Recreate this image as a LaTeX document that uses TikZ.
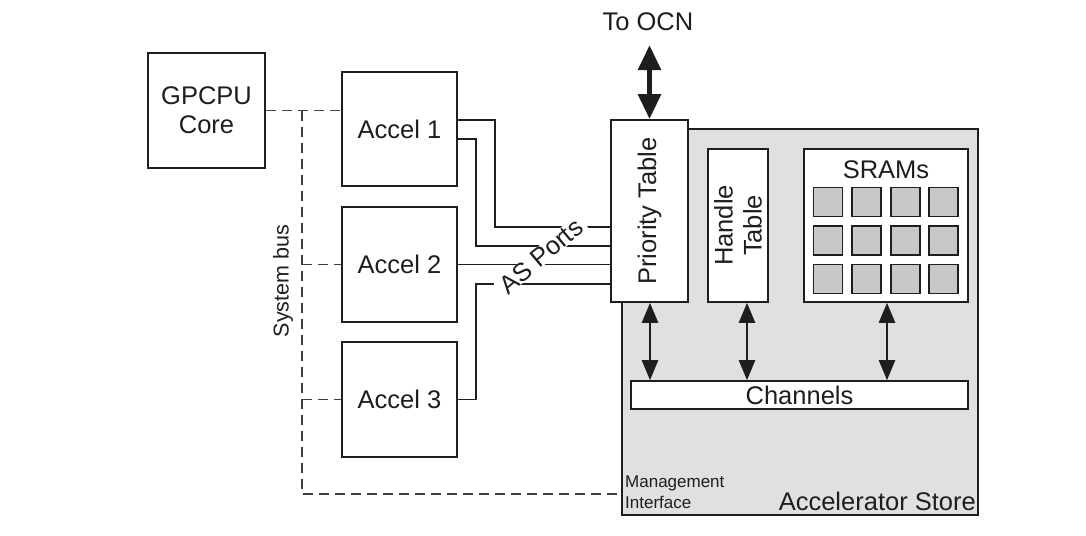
\documentclass[tikz,border=0pt]{standalone}
\usepackage{fontspec}
\setmainfont{Liberation Sans}
\usetikzlibrary{arrows.meta,calc}
\definecolor{ink}{HTML}{1E1E1E}
\definecolor{storegray}{HTML}{E0E0E2}
\definecolor{cellgray}{HTML}{C8C8CA}
\begin{document}
\begin{tikzpicture}[x=1pt,y=-1pt,
  box/.style={draw=ink,line width=1.6pt,fill=white,inner sep=0pt,align=center,text=ink,
    font=\fontsize{25.5}{30}\selectfont},
  cell/.style={draw=ink,line width=1.4pt,fill=cellgray,minimum width=29pt,minimum height=29pt,inner sep=0pt},
  bus/.style={draw=ink!85,line width=1.4pt,dash pattern=on 10pt off 6pt},
  port/.style={draw=ink,line width=1.5pt},
  bigarrow/.style={draw=ink,line width=5.5pt,{Triangle[width=22pt,length=25pt]}-{Triangle[width=22pt,length=25pt]}},
  smallarrow/.style={draw=ink,line width=2.4pt,{Triangle[width=16pt,length=20pt]}-{Triangle[width=16pt,length=20pt]}},
  lbl/.style={text=ink,inner sep=0pt}
]
\useasboundingbox (0,0) rectangle (1086,535);

% Accelerator store background
\node[draw=ink,line width=1.6pt,fill=storegray,minimum width=356pt,minimum height=386pt,inner sep=0pt] (st) at (800,322) {};

% Left boxes
\node[box,minimum width=117pt,minimum height=115pt] (gp) at (206.5,110.5) {GPCPU\\[-1pt]Core};
\node[box,minimum width=115pt,minimum height=114pt] (a1) at (399.5,129) {Accel 1};
\node[box,minimum width=115pt,minimum height=115pt] (a2) at (399.5,264.5) {Accel 2};
\node[box,minimum width=115pt,minimum height=115pt] (a3) at (399.5,399.5) {Accel 3};

% Store internals
\node[box,minimum width=77pt,minimum height=182pt] (pt) at (649.5,211) {};
\node[lbl,rotate=90,font=\fontsize{25.5}{30}\selectfont] (ptl) at (pt.center) {Priority Table};
\node[box,minimum width=60pt,minimum height=153pt] (ht) at (738,225.5) {};
\node[lbl,rotate=90,align=center,font=\fontsize{25.5}{29}\selectfont] (htl) at (ht.center) {Handle\\Table};
\node[box,minimum width=164pt,minimum height=153pt] (sr) at (886,225.5) {};
\node[lbl,font=\fontsize{25.5}{30}\selectfont] (srl) at (886,170) {SRAMs};
\foreach \i/\x in {1/828,2/866.5,3/905.5,4/943.5}{
  \foreach \j/\y in {1/202,2/240.5,3/279}{
    \node[cell] (c\i\j) at (\x,\y) {};
  }
}
\node[box,minimum width=337pt,minimum height=28pt] (ch) at (799.5,395) {Channels};

% Arrows
\node[lbl,font=\fontsize{25.5}{30}\selectfont] (ocn) at (648,22) {To OCN};
\coordinate (ocnend) at (649.5,45);
\draw[bigarrow] (ocnend) -- (pt.north);
\draw[smallarrow] (pt.south -| 650,0) -- (ch.north -| 650,0);
\draw[smallarrow] (ht.south -| 747,0) -- (ch.north -| 747,0);
\draw[smallarrow] (sr.south -| 887,0) -- (ch.north -| 887,0);

% System bus
\coordinate (bt) at (302,110.5);
\coordinate (bb) at (302,494);
\draw[bus] (gp.east) -- (gp.east -| a1.west);
\draw[bus] (bt) -- (bb) -- (bb -| st.west);
\draw[bus] (bb |- a2.west) -- (a2.west);
\draw[bus] (bb |- a3.west) -- (a3.west);
\node[lbl,rotate=90,font=\fontsize{21.5}{25}\selectfont] (sbl) at (283,281) {System bus};

% AS ports
\draw[port] ([yshift=9pt]a1.east) -| (495,227) -- (pt.west |- 0,227);
\draw[port] ([yshift=-10pt]a1.east) -| (476,246) -- (pt.west |- 0,246);
\draw[port] (a2.east) -- (pt.west |- a2.east);
\draw[port] (a3.east) -| (476,284) -- (pt.west |- 0,284);
\node[lbl,rotate=40,fill=white,inner xsep=4pt,inner ysep=0pt,font=\fontsize{25.5}{30}\selectfont] (asp) at (541,256) {AS Ports};

% Store labels
\node[lbl,anchor=north west,align=left,font=\fontsize{17}{21}\selectfont] (mi) at (625,476) {Management\\Interface};
\node[lbl,anchor=base east,font=\fontsize{25.5}{30}\selectfont] (asl) at (976,510) {Accelerator Store};
\end{tikzpicture}
\end{document}
